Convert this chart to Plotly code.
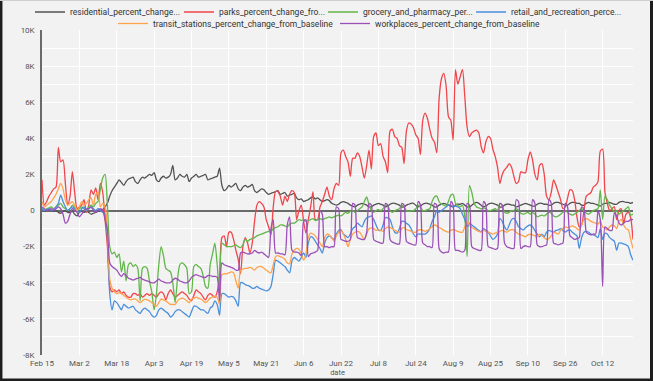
import plotly.graph_objects as go
import pandas as pd

# ---------------- data (values in thousands, daily from 2020-02-15) ----------------
start_date = "2020-02-15"
end_date = "2020-10-25"

residential = [
    0.0, -0.05, 0.0, 0.05, 0.0, -0.05, 0.0,
    -0.1, -0.15, -0.05, 0.0, -0.1, -0.1, -0.05,
    -0.2, -0.3, -0.1, -0.05, -0.1, -0.05, -0.1,
    -0.2, -0.15, -0.1, -0.05, 0.0, 0.05, 0.2,
    0.4, 0.8, 1.1, 1.3, 1.5, 1.7, 1.55,
    1.4, 1.6, 1.75, 1.8, 1.85, 1.6, 1.5,
    1.7, 1.85, 1.8, 1.9, 2.0, 1.95, 2.1,
    1.7, 1.6, 1.8, 1.9, 1.8, 1.85, 2.0,
    2.5, 1.7, 1.8, 2.0, 1.9, 1.85, 2.0,
    1.6, 1.8, 1.9, 2.0, 1.85, 1.9, 1.95,
    2.0, 1.7, 1.75, 1.8, 1.85, 1.9, 2.35,
    1.4, 1.1, 1.2, 1.4, 1.3, 1.4, 1.5,
    1.2, 1.1, 1.3, 1.4, 1.3, 1.35, 1.45,
    1.1, 1.0, 1.1, 1.2, 1.15, 1.0, 0.9,
    0.95, 1.0, 1.05, 1.1, 0.9, 0.95, 1.0,
    0.8, 0.85, 0.9, 0.95, 0.7, 0.6, 0.65,
    0.5, 0.55, 0.6, 0.7, 0.75, 0.65, 0.7,
    0.6, 0.5, 0.55, 0.6, 0.55, 0.4, 0.35,
    0.3, 0.35, 0.45, 0.5, 0.45, 0.4, 0.3,
    0.25, 0.2, 0.3, 0.35, 0.4, 0.35, 0.3,
    0.2, 0.2, 0.3, 0.35, 0.4, 0.35, 0.3,
    0.2, 0.25, 0.35, 0.4, 0.4, 0.35, 0.3,
    0.2, 0.2, 0.3, 0.35, 0.4, 0.4, 0.3,
    0.2, 0.25, 0.35, 0.4, 0.4, 0.35, 0.3,
    0.2, 0.2, 0.3, 0.35, 0.4, 0.35, 0.3,
    0.25, 0.2, 0.3, 0.35, 0.35, 0.4, 0.3,
    0.2, 0.2, 0.3, 0.4, 0.45, 0.4, 0.3,
    0.2, 0.25, 0.35, 0.4, 0.4, 0.35, 0.3,
    0.2, 0.2, 0.3, 0.35, 0.35, 0.3, 0.3,
    0.2, 0.25, 0.3, 0.35, 0.4, 0.35, 0.3,
    0.25, 0.25, 0.35, 0.4, 0.4, 0.35, 0.35,
    0.3, 0.3, 0.4, 0.45, 0.45, 0.4, 0.35,
    0.3, 0.3, 0.4, 0.45, 0.45, 0.4, 0.4,
    0.3, 0.3, 0.4, 0.45, 0.4, 0.4, 0.35,
    0.3, 0.25, 0.35, 0.4, 0.4, 0.45, 0.4,
    0.35, 0.35, 0.45, 0.5, 0.5, 0.45, 0.45,
    0.4, 0.45,
]

parks = [
    1.7, 0.3, 0.5, 0.8, 1.0, 1.2, 1.3,
    3.5, 2.7, 2.8, 1.5, 0.3, 0.8, 2.15,
    1.0, 0.1, 0.2, 0.3, 0.6, -0.1, 0.3,
    1.15, 0.9, 1.25, 0.6, 1.5, 1.0, -0.5,
    -2.0, -4.2, -4.5, -4.4, -4.5, -4.4, -4.6,
    -4.5, -4.7, -4.8, -4.8, -4.6, -4.6, -4.7,
    -4.6, -4.8, -4.7, -4.6, -4.7, -4.6, -4.7,
    -4.8, -4.6, -4.5, -4.6, -4.95, -4.6, -4.4,
    -4.6, -4.8, -4.7, -4.6, -4.5, -4.6, -4.7,
    -4.9, -5.0, -4.7, -4.4, -4.5, -4.6, -4.8,
    -4.95, -4.7, -4.6, -4.7, -4.8, -4.5, -3.6,
    -1.5, -1.4, -2.0, -1.2, -1.2, -1.6, -2.2,
    -2.7, -3.5, -2.0, -1.5, -1.8, -2.35, -1.8,
    -0.6, 0.3, 0.5, 0.4, 0.2, -0.5, -0.9,
    -1.35, 0.2, 1.05, 1.05, 0.8, 0.3, 0.8,
    0.5, 0.9, 1.1, 1.0, -0.5, 0.0, 0.3,
    -0.6, -1.25, -0.5, 0.2, 1.05, -0.5, -0.5,
    0.2, 0.5, 0.9, 1.3, 0.8, 0.6, 1.2,
    1.5, 1.4, 3.2, 3.35, 3.0, 2.7, 1.9,
    2.9, 2.9, 3.2, 3.0, 2.4, 1.8, 2.5,
    3.35, 2.3, 4.1, 4.3, 3.6, 3.7, 3.0,
    2.7, 2.1, 4.4, 4.5, 4.1, 4.0, 3.6,
    3.5, 2.6, 4.4, 4.85, 4.8, 4.6, 4.2,
    4.0, 3.1, 5.0, 5.4, 5.1, 4.5, 4.0,
    3.8, 3.2, 6.2, 7.3, 7.6, 6.9, 5.2,
    5.0, 3.9, 7.8, 7.0, 7.4, 7.8, 6.3,
    4.6, 4.1, 4.3, 4.4, 4.45, 4.3, 3.55,
    3.2, 3.8, 4.1, 4.0, 3.4, 3.0, 2.4,
    1.5, 2.0, 2.25, 2.4, 2.6, 2.4, 1.9,
    1.5, 1.6, 2.15, 2.1, 2.1, 2.8, 3.25,
    2.8, 2.0, 1.7, 2.5, 2.6, 2.0, 0.8,
    0.6, 1.0, 1.7, 1.4, 1.0, 0.6, 0.1,
    0.2, 0.7, 1.15, 1.1, 0.6, -0.35, -0.9,
    -0.8, 0.0, 0.8, 0.9, 1.0, 1.3, 1.4,
    1.6, 3.3, 3.4, 1.0, 0.4, 0.0, 0.1,
    0.2, -0.5, 0.0, 0.1, -0.7, -0.2, -0.1,
    -0.4, -1.6,
]

grocery = [
    0.1, 0.0, 0.1, 0.15, 0.2, 0.1, 0.2,
    0.3, 0.4, 0.2, 0.1, 0.0, 0.1, 0.3,
    0.2, 0.0, 0.1, 0.2, 0.1, 0.0, 0.2,
    0.3, 0.2, 0.4, 0.5, 1.2, 1.8, 2.0,
    0.3, -2.0, -2.4, -2.3, -2.6, -2.4, -3.4,
    -2.8, -3.9, -3.0, -2.9, -3.1, -3.0, -3.2,
    -5.0, -3.2, -3.1, -3.2, -3.9, -4.5, -5.5,
    -4.6, -3.0, -2.0, -2.5, -3.2, -3.3, -3.4,
    -4.0, -5.1, -3.8, -3.0, -2.9, -3.0, -3.2,
    -4.6, -4.5, -3.1, -3.0, -3.1, -3.2, -3.6,
    -4.2, -4.3, -3.0, -2.4, -1.8, -3.0, -4.6,
    -1.8, -1.9, -2.0, -2.0, -2.0, -1.95, -1.9,
    -2.0, -2.05, -1.9, -1.6, -1.7, -1.6, -1.55,
    -1.5, -1.4, -1.35, -1.3, -1.25, -1.2, -1.15,
    -1.2, -1.0, -0.95, -0.9, -0.8, -0.8, -0.85,
    -0.9, -0.75, -0.7, -0.7, -0.6, -0.5, -0.55,
    -0.5, -0.6, -0.55, -0.5, -0.45, -0.55, -0.5,
    -0.45, -0.5, -0.45, -0.4, -0.35, -0.4, -0.35,
    -0.3, -0.25, -0.3, -0.2, -0.1, -0.15, -0.05,
    0.0, -0.1, 0.0, 0.1, 0.2, 0.5, 0.75,
    0.3, 0.0, -0.1, 0.0, 0.05, 0.0, 0.1,
    0.3, 0.25, 0.0, -0.1, 0.0, 0.05, 0.1,
    0.3, 0.2, 0.0, -0.05, 0.0, 0.0, 0.1,
    0.3, 0.2, 0.0, 0.0, 0.05, 0.1, 0.5,
    0.75, 0.8, 0.5, 0.35, 0.3, 0.25, 0.5,
    0.85, 0.9, 0.4, 0.3, 0.2, 0.3, -0.35,
    -2.55, 1.4, 1.0, 0.4, 0.2, 0.15, 0.1,
    0.15, 0.1, 0.0, 0.0, 0.05, 0.1, 0.0,
    0.4, 0.3, -0.1, -0.15, -0.1, 0.0, 0.0,
    0.1, 0.0, -0.15, -0.2, -0.15, -0.1, -0.2,
    -0.1, -0.2, -0.35, -0.3, -0.25, -0.3, -0.2,
    -0.1, -0.15, -0.3, -0.35, -0.3, -0.2, -0.1,
    0.0, -0.1, -0.2, -0.25, -0.2, -0.1, 0.0,
    0.1, 0.0, -0.15, -0.2, -0.1, 0.0, 0.05,
    0.1, 1.15, -0.5, 0.8, 0.6, 0.3, 0.1,
    -0.1, 0.0, -0.2, -0.1, 0.0, 0.1, 0.2,
    -0.25, -0.2,
]

retail = [
    0.1, 0.0, 0.05, 0.1, 0.0, 0.05, 0.2,
    0.4, 0.85, 0.5, 0.2, 0.0, 0.1, 0.2,
    0.1, 0.0, -0.1, 0.1, 0.2, 0.0, 0.1,
    0.2, 0.1, 0.0, 0.1, 0.0, -0.1, -0.2,
    -1.5, -4.6, -5.5, -5.0, -5.1, -5.3, -5.5,
    -5.2, -5.3, -5.4, -5.35, -5.3, -5.5, -5.6,
    -5.7, -5.5, -5.4, -5.5, -5.6, -5.8, -5.9,
    -5.8, -5.5, -5.4, -5.5, -5.6, -5.7, -5.9,
    -5.8, -5.6, -5.5, -5.5, -5.6, -5.7, -5.8,
    -5.9, -5.6, -5.3, -5.3, -5.4, -5.5, -5.5,
    -5.6, -5.7, -5.4, -5.3, -5.0, -5.2, -5.8,
    -4.6, -4.6, -4.7, -4.8, -4.75, -4.8, -5.0,
    -5.3, -4.0, -4.0, -4.1, -4.15, -4.2, -4.3,
    -4.3, -4.2, -4.3, -4.35, -4.4, -4.45, -4.4,
    -4.2, -3.5, -2.75, -2.8, -2.9, -3.0, -3.1,
    -3.3, -3.45, -2.8, -2.6, -2.7, -2.8, -2.6,
    -2.35, -2.6, -1.8, -1.45, -1.5, -1.7, -1.9,
    -2.1, -2.35, -1.8, -1.5, -1.4, -1.5, -1.6,
    -1.3, -1.1, -1.07, -1.3, -1.4, -1.5, -1.3,
    -1.0, -0.9, -0.7, -0.8, -0.9, -0.6, -0.4,
    -0.35, -0.3, -0.5, -0.8, -1.07, -1.1, -0.8,
    -0.4, -0.4, -0.5, -0.9, -1.2, -1.25, -1.0,
    -0.6, -0.6, -0.7, -0.8, -1.0, -1.3, -1.45,
    -1.3, -1.3, -1.3, -1.3, -1.2, -1.0, -0.6,
    -0.35, 0.0, -0.1, 0.0, 0.1, 0.2, 0.3,
    0.3, 0.2, 0.25, 0.2, 0.1, -0.2, -0.5,
    -0.9, -0.7, -0.8, -0.9, -1.0, -1.1, -1.17,
    -1.0, -1.1, -1.2, -1.4, -1.6, -1.5, -1.3,
    -0.43, -0.6, -0.9, -1.07, -0.8, -0.5, -0.43,
    -0.6, -0.9, -1.0, -1.07, -0.95, -0.85, -0.8,
    -0.9, -1.1, -1.3, -1.45, -1.3, -1.45, -1.2,
    -1.1, -1.15, -1.2, -1.1, -1.07, -1.0, -1.1,
    -1.2, -1.1, -1.07, -1.2, -1.3, -1.4, -2.1,
    -1.5, -1.2, -1.15, -1.2, -1.3, -1.35, -1.4,
    -1.5, -1.0, -1.6, -1.25, -1.3, -1.5, -1.6,
    -1.7, -2.2, -1.8, -1.8, -1.85, -1.9, -2.0,
    -2.45, -2.75,
]

transit = [
    0.5, 0.2, 0.3, 0.4, 0.5, 0.7, 0.9,
    1.2, 1.5, 1.2, 0.6, 0.3, 0.4, 0.5,
    0.3, 0.0, 0.2, 0.5, 0.3, 0.4, 0.6,
    0.7, 0.3, 0.9, 1.0, 0.2, 0.4, 0.2,
    -1.0, -3.8, -4.3, -4.5, -4.6, -4.55, -4.6,
    -4.7, -4.8, -4.9, -4.95, -4.9, -4.9, -5.0,
    -5.1, -5.0, -4.9, -4.95, -5.0, -5.1, -5.2,
    -5.3, -5.1, -4.9, -4.95, -5.0, -5.1, -5.2,
    -5.2, -5.2, -5.0, -4.9, -4.85, -4.9, -5.0,
    -5.1, -4.9, -4.85, -4.8, -4.85, -4.9, -5.0,
    -5.1, -5.0, -4.85, -4.8, -4.75, -4.8, -5.2,
    -3.55, -3.5, -3.5, -3.45, -3.4, -3.45, -3.9,
    -4.3, -3.3, -3.25, -3.2, -3.2, -3.15, -3.2,
    -3.3, -3.15, -3.1, -3.1, -3.2, -3.3, -3.4,
    -3.45, -3.0, -2.55, -2.5, -2.55, -2.6, -2.7,
    -2.9, -2.95, -2.4, -2.2, -2.1, -2.15, -2.4,
    -2.75, -2.4, -1.5, -1.25, -1.3, -1.4, -1.6,
    -1.8, -2.0, -1.5, -1.3, -1.35, -1.5, -1.7,
    -1.4, -1.2, -1.07, -1.3, -1.6, -2.0, -1.6,
    -1.3, -1.2, -1.15, -1.2, -1.4, -1.6, -1.3,
    -1.0, -0.96, -1.0, -1.1, -1.07, -1.1, -1.15,
    -1.0, -0.9, -0.95, -1.0, -1.1, -1.15, -1.2,
    -1.0, -0.95, -1.05, -1.1, -1.15, -1.2, -1.2,
    -1.1, -1.05, -1.1, -1.15, -1.1, -1.0, -0.9,
    -0.8, -0.85, -0.95, -1.0, -1.1, -1.15, -1.2,
    -1.1, -1.05, -1.1, -1.15, -1.2, -1.2, -0.9,
    -0.6, -0.8, -0.95, -1.0, -1.1, -1.15, -1.2,
    -1.1, -1.15, -1.2, -1.25, -1.3, -1.25, -1.2,
    -1.15, -1.1, -1.15, -1.2, -1.1, -1.05, -1.07,
    -1.2, -1.3, -1.35, -1.4, -1.45, -1.35, -1.3,
    -1.35, -1.4, -1.45, -1.3, -1.4, -1.5, -1.6,
    -1.55, -1.4, -1.2, -1.25, -1.3, -1.1, -1.0,
    -0.9, -0.95, -0.9, -0.85, -0.9, -1.0, -1.07,
    -0.8, -0.5, -0.45, -0.5, -0.6, -0.65, -0.7,
    -0.75, -0.6, -0.9, -1.0, -1.07, -0.9, -0.8,
    -0.85, -1.0, -0.6, -0.5, -0.8, -1.0, -1.07,
    -1.6, -2.1,
]

workplaces = [
    0.2, 0.1, 0.0, 0.05, 0.1, 0.0, 0.1,
    0.2, 0.1, -0.2, -0.7, -0.6, -0.2, 0.1,
    0.0, -0.1, -0.35, -0.2, 0.0, 0.1, 0.1,
    0.2, 0.0, -0.1, 0.0, 0.1, 0.0, -0.5,
    -1.07, -2.9, -3.1, -3.2, -3.3, -3.5, -3.65,
    -3.5, -3.6, -3.75, -3.8, -3.85, -3.8, -3.75,
    -3.7, -3.8, -3.85, -3.9, -3.95, -4.0, -4.0,
    -3.9, -3.8, -3.9, -3.95, -4.0, -4.0, -4.0,
    -3.85, -3.75, -3.8, -3.9, -3.95, -4.0, -4.0,
    -3.9, -3.7, -3.6, -3.55, -3.6, -3.65, -3.7,
    -3.7, -3.6, -3.6, -3.65, -3.65, -3.7, -5.0,
    -2.9, -3.0, -3.05, -3.1, -3.15, -3.2, -3.3,
    -3.3, -2.35, -2.3, -2.35, -2.4, -2.4, -2.35,
    -2.2, -2.3, -2.35, -2.3, -2.4, -2.5, -2.6,
    -1.0, -0.5, -2.35, -2.35, -2.4, -2.4, -2.45,
    -0.8, -0.35, -2.2, -2.3, -2.3, -2.35, -2.5,
    -0.6, -0.5, -2.55, -2.4, -2.35, -2.3, -2.2,
    0.0, -0.2, -2.0, -2.0, -2.05, -2.0, -2.0,
    0.2, 0.1, -1.6, -1.65, -1.7, -1.7, -1.6,
    0.4, 0.3, -1.5, -1.55, -1.6, -1.6, -1.2,
    0.4, 0.3, -1.6, -1.7, -1.75, -1.8, -1.8,
    0.4, 0.3, -1.6, -1.75, -1.8, -1.85, -1.85,
    0.4, 0.3, -1.7, -1.8, -1.85, -1.9, -1.9,
    0.5, 0.3, -1.8, -1.9, -2.0, -2.0, -2.05,
    0.4, 0.3, -2.1, -2.3, -2.35, -2.3, -2.3,
    0.5, 0.3, -2.2, -2.2, -2.25, -2.3, -2.2,
    0.4, 0.3, -2.0, -2.1, -2.15, -2.2, -2.2,
    0.5, 0.3, -2.0, -2.05, -2.1, -2.15, -2.1,
    0.4, 0.3, -1.8, -2.0, -2.05, -2.1, -2.1,
    0.6, 0.5, -2.1, -2.0, -1.95, -2.0, -2.0,
    0.6, 0.4, -1.9, -2.0, -2.0, -1.95, -1.9,
    0.6, 0.4, -1.8, -1.85, -1.9, -1.85, -1.8,
    0.4, 0.2, -1.4, -1.5, -1.6, -1.55, -1.5,
    0.2, 0.1, -1.2, -1.3, -1.35, -1.3, -1.3,
    0.0, -0.5, -4.2, -0.9, -1.0, -1.1, -1.1,
    -0.15, -0.3, -0.7, -0.8, -0.7, -0.6, -0.6,
    -0.5, -0.5,
]

series_names = [
    "residential_percent_change...",
    "parks_percent_change_fro...",
    "grocery_and_pharmacy_per...",
    "retail_and_recreation_perce...",
    "transit_stations_percent_change_from_baseline",
    "workplaces_percent_change_from_baseline",
]

x_tick_dates = ["2020-02-15", "2020-03-02", "2020-03-18", "2020-04-03", "2020-04-19",
                "2020-05-05", "2020-05-21", "2020-06-06", "2020-06-22", "2020-07-08",
                "2020-07-24", "2020-08-09", "2020-08-25", "2020-09-10", "2020-09-26",
                "2020-10-12"]
x_tick_labels = ["Feb 15", "Mar 2", "Mar 18", "Apr 3", "Apr 19", "May 5", "May 21",
                 "Jun 6", "Jun 22", "Jul 8", "Jul 24", "Aug 9", "Aug 25", "Sep 10",
                 "Sep 26", "Oct 12"]
y_tick_values = list(range(-8000, 10001, 1000))
y_tick_labels = ["-8K", "", "-6K", "", "-4K", "", "-2K", "", "0", "", "2K", "", "4K", "",
                 "6K", "", "8K", "", "10K"]

# ---------------- figure ----------------
dates = pd.date_range(start_date, end_date, freq="D")
all_series = [residential, parks, grocery, retail, transit, workplaces]
colors = ["#525252", "#f0454b", "#62b64a", "#4a8fdc", "#ffa24c", "#9b4fb7"]

W, H = 653, 381
BG = "#f2f2f2"
ml, mr, mt, mb = 42, 20, 30, 26
pw, ph = W - ml - mr, H - mt - mb


def px_x(px):
    return (px - ml) / pw


def px_y(py):
    return 1 - (py - mt) / ph


# legend entry placement (text left edge px, row centre px) - one legend per entry
legend_text_x = [70, 219, 363, 511, 153, 375]
legend_row_y = [12, 12, 12, 12, 23.5, 23.5]
legend_ids = ["legend"] + ["legend%d" % i for i in range(2, 7)]

fig = go.Figure()
for name, vals, col, lg in zip(series_names, all_series, colors, legend_ids):
    fig.add_trace(go.Scatter(
        x=dates, y=[v * 1000 for v in vals], mode="lines", name=name,
        line=dict(color=col, width=1.3, shape="spline", smoothing=0.7),
        legend=lg, hoverinfo="skip"))

legend_layout = {}
for lg, tx, ty in zip(legend_ids, legend_text_x, legend_row_y):
    legend_layout[lg] = dict(
        orientation="h", xref="paper", yref="paper",
        x=px_x(tx - 40), xanchor="left", y=px_y(ty), yanchor="middle",
        bgcolor="rgba(0,0,0,0)", borderwidth=0,
        font=dict(family="Roboto", size=8.5, color="#333333"),
        itemwidth=30, tracegroupgap=0)

fig.update_layout(
    width=W, height=H, autosize=False,
    margin=dict(l=ml, r=mr, t=mt, b=mb, pad=0, autoexpand=False),
    paper_bgcolor=BG, plot_bgcolor=BG,
    font=dict(family="Roboto", color="#555555"),
    showlegend=True,
    xaxis=dict(type="date", range=[start_date, end_date], tickmode="array",
               tickvals=x_tick_dates, ticktext=x_tick_labels, showgrid=True,
               gridcolor="#ffffff", gridwidth=1, zeroline=False, showline=False,
               ticks="", ticklabelstandoff=2, tickfont=dict(size=8, color="#555555"),
               title=dict(text="date", font=dict(size=7.5, color="#555555"), standoff=2)),
    yaxis=dict(range=[-8000, 10000], tickmode="array", tickvals=y_tick_values,
               ticktext=y_tick_labels, showgrid=True, gridcolor="#ffffff", gridwidth=1,
               zeroline=True, zerolinecolor="#6a6a6a", zerolinewidth=1.5,
               showline=True, linecolor="#6a6a6a", linewidth=1.5, ticks="",
               ticklabelstandoff=4, tickfont=dict(size=8, color="#555555")),
    **legend_layout,
)

# outer frame of the card
frame = [
    (1.2, 0, 1.2, H, "#1e1e1e", 2.5),
    (0, H - 1.3, W, H - 1.3, "#1e1e1e", 2.6),
    (W - 1.5, 0, W - 1.5, H, "#1e1e1e", 3),
    (0, 0.5, W, 0.5, "#cfcfcf", 1),
]
for x0, y0, x1, y1, c, w in frame:
    fig.add_shape(type="line", xref="paper", yref="paper",
                  x0=px_x(x0), y0=px_y(y0), x1=px_x(x1), y1=px_y(y1),
                  line=dict(color=c, width=w), layer="above")

fig.write_html("out.html", config={"displayModeBar": False},
               post_script="document.body.style.margin='0';document.body.style.overflow='hidden';")
